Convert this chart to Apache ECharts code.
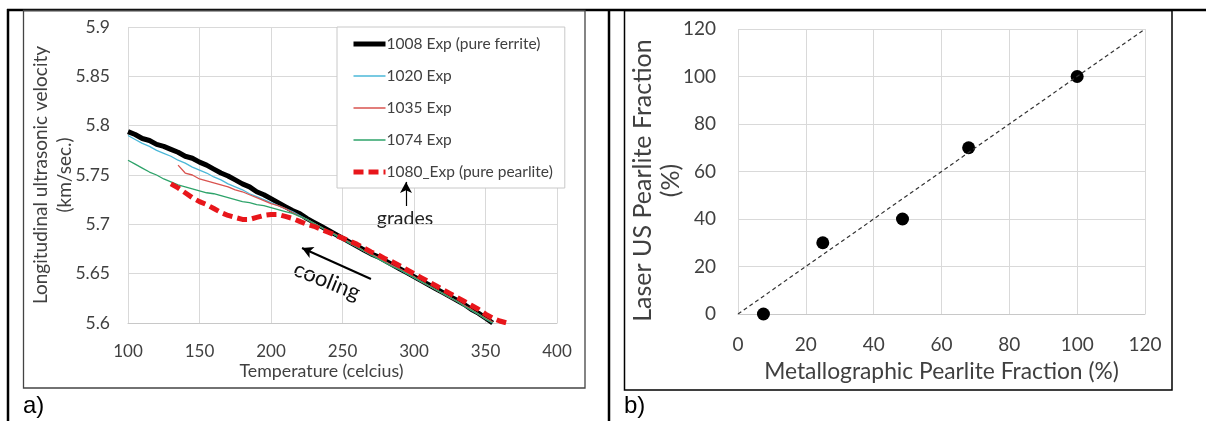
<!DOCTYPE html>
<html>
<head>
<meta charset="utf-8">
<script src="https://cdn.jsdelivr.net/npm/echarts@6/dist/echarts.min.js"></script>
<style>
  html, body { margin: 0; padding: 0; background: #fff; }
  #main { width: 1206px; height: 421px; }
</style>
</head>
<body>
<div id="main"></div>
<script>
// a) velocity vs temperature, sampled every 5 C
const temps = [100, 105, 110, 115, 120, 125, 130, 135, 140, 145, 150, 155, 160, 165, 170, 175, 180, 185, 190, 195,
  200, 205, 210, 215, 220, 225, 230, 235, 240, 245, 250, 255, 260, 265, 270, 275, 280, 285, 290, 295,
  300, 305, 310, 315, 320, 325, 330, 335, 340, 345, 350, 355, 360, 365, 370]
const vel1008 = [5.794, 5.791, 5.787, 5.785, 5.781, 5.779, 5.776, 5.773, 5.769, 5.767, 5.763, 5.760, 5.756, 5.752, 5.749, 5.745, 5.741, 5.738, 5.733, 5.730,
  5.726, 5.722, 5.718, 5.714, 5.711, 5.706, 5.702, 5.698, 5.694, 5.690, 5.686, 5.682, 5.678, 5.674, 5.670, 5.667, 5.663, 5.659, 5.655, 5.651,
  5.647, 5.643, 5.639, 5.635, 5.631, 5.627, 5.623, 5.619, 5.614, 5.610, 5.605, 5.600, null, null, null]
const vel1020 = [5.790, 5.786, 5.782, 5.779, 5.775, 5.772, 5.769, 5.765, 5.762, 5.758, 5.755, 5.752, 5.748, 5.745, 5.741, 5.738, 5.735, 5.731, 5.728, 5.725,
  5.722, 5.719, 5.716, 5.713, 5.709, 5.705, 5.701, 5.697, 5.693, 5.689, 5.685, 5.681, 5.677, 5.673, 5.669, 5.666, 5.662, 5.658, 5.654, 5.650,
  5.646, 5.642, 5.638, 5.634, 5.630, 5.626, 5.622, 5.618, 5.613, 5.609, 5.604, 5.600, null, null, null]
const vel1035 = [null, null, null, null, null, null, null, 5.760, 5.752, 5.750, 5.746, 5.744, 5.742, 5.740, 5.738, 5.735, 5.733, 5.730, 5.727, 5.724,
  5.721, 5.719, 5.716, 5.712, 5.708, 5.705, 5.701, 5.697, 5.693, 5.690, 5.686, 5.682, 5.678, 5.673, 5.670, 5.666, 5.662, 5.658, 5.655, 5.651,
  5.647, 5.642, 5.638, 5.634, 5.630, 5.626, 5.622, 5.618, 5.614, 5.609, 5.605, 5.601, null, null, null]
const vel1074 = [5.765, 5.761, 5.757, 5.753, 5.750, 5.746, 5.743, 5.740, 5.738, 5.736, 5.734, 5.732, 5.731, 5.729, 5.727, 5.725, 5.723, 5.722, 5.720, 5.719,
  5.717, 5.715, 5.713, 5.711, 5.708, 5.705, 5.701, 5.697, 5.693, 5.689, 5.685, 5.681, 5.677, 5.673, 5.669, 5.665, 5.661, 5.657, 5.654, 5.650,
  5.646, 5.642, 5.638, 5.634, 5.630, 5.626, 5.622, 5.617, 5.613, 5.609, 5.604, 5.600, null, null, null]
const vel1080 = [null, null, null, null, null, null, 5.741, 5.737, 5.732, 5.727, 5.723, 5.720, 5.716, 5.712, 5.709, 5.707, 5.705, 5.705, 5.707, 5.709,
  5.710, 5.710, 5.708, 5.706, 5.703, 5.700, 5.698, 5.695, 5.692, 5.689, 5.686, 5.683, 5.680, 5.676, 5.672, 5.669, 5.665, 5.662, 5.658, 5.654,
  5.650, 5.646, 5.642, 5.638, 5.634, 5.630, 5.626, 5.622, 5.618, 5.614, 5.609, 5.605, 5.602, 5.600, null]

// b) laser US vs metallographic pearlite fraction
const metalloFraction = [7.5, 25, 48.5, 68, 100]
const laserFraction = [0, 30, 40, 70, 100]
const parityX = [0, 120]
const parityY = [0, 120]

const pairs = (xs, ys) => xs.map((x, i) => [x, ys[i]]).filter(p => p[1] !== null)

const font = 'Lato, "Open Sans", sans-serif'
const gridColor = '#d9d9d9'
const labelColor = '#404040'

const chart = echarts.init(document.getElementById('main'), null, { renderer: 'canvas' })

const lineSeries = (name, data, color, width, type) => ({
  name: name,
  type: 'line',
  xAxisIndex: 0,
  yAxisIndex: 0,
  data: data,
  symbol: 'none',
  showSymbol: false,
  silent: true,
  animation: false,
  lineStyle: { color: color, width: width, type: type || 'solid' },
  itemStyle: { color: color }
})

const option = {
  animation: false,
  textStyle: { fontFamily: font },
  grid: [
    { left: 128, top: 27, width: 429, height: 296 },
    { left: 738, top: 29, width: 407, height: 285 }
  ],
  legend: {
    data: ['1008 Exp (pure ferrite)', '1020 Exp', '1035 Exp', '1074 Exp', '1080_Exp (pure pearlite)'],
    orient: 'vertical',
    left: 337,
    top: 27,
    padding: [9, 12, 8, 14],
    itemGap: 16,
    itemWidth: 32,
    itemHeight: 14,
    borderColor: '#c8c8c8',
    borderWidth: 1,
    backgroundColor: '#fff',
    selectedMode: false,
    itemStyle: { opacity: 0 },
    lineStyle: { width: 'inherit' },
    textStyle: { fontFamily: font, fontSize: 15.5, color: labelColor, padding: [0, 0, 0, -4] }
  },
  xAxis: [
    {
      gridIndex: 0,
      type: 'value',
      min: 100,
      max: 400,
      interval: 50,
      name: 'Temperature (celcius)',
      nameLocation: 'middle',
      nameMoveOverlap: false,
      nameGap: 39,
      nameTextStyle: { fontFamily: font, fontSize: 17.8, color: labelColor, padding: [0, 42, 0, 0] },
      axisLine: { show: true, lineStyle: { color: '#c8c8c8' } },
      axisTick: { show: false },
      axisLabel: { fontFamily: font, fontSize: 17, color: labelColor, margin: 20 },
      splitLine: { show: true, lineStyle: { color: gridColor } }
    },
    {
      gridIndex: 1,
      type: 'value',
      min: 0,
      max: 120,
      interval: 20,
      name: 'Metallographic Pearlite Fraction (%)',
      nameLocation: 'middle',
      nameMoveOverlap: false,
      nameGap: 46,
      nameTextStyle: { fontFamily: font, fontSize: 22.8, color: labelColor },
      axisLine: { show: true, lineStyle: { color: '#c8c8c8' } },
      axisTick: { show: false },
      axisLabel: { fontFamily: font, fontSize: 19, color: labelColor, margin: 21 },
      splitLine: { show: true, lineStyle: { color: gridColor } }
    }
  ],
  yAxis: [
    {
      gridIndex: 0,
      type: 'value',
      min: 5.6,
      max: 5.9,
      interval: 0.05,
      name: 'Longitudinal ultrasonic velocity\n(km/sec.)',
      nameLocation: 'middle',
      nameMoveOverlap: false,
      nameGap: 51,
      nameTextStyle: { fontFamily: font, fontSize: 19, color: labelColor, lineHeight: 24 },
      axisLine: { show: false },
      axisTick: { show: false },
      axisLabel: { fontFamily: font, fontSize: 17.5, color: labelColor, margin: 18, formatter: v => String(+v.toFixed(2)) },
      splitLine: { show: true, lineStyle: { color: gridColor } }
    },
    {
      gridIndex: 1,
      type: 'value',
      min: 0,
      max: 120,
      interval: 20,
      name: 'Laser US Pearlite Fraction\n(%)',
      nameLocation: 'middle',
      nameMoveOverlap: false,
      nameGap: 53,
      nameTextStyle: { fontFamily: font, fontSize: 25, color: labelColor, lineHeight: 28, padding: [0, 18, 0, 0] },
      axisLine: { show: false },
      axisTick: { show: false },
      axisLabel: { fontFamily: font, fontSize: 19, color: labelColor, margin: 22 },
      splitLine: { show: true, lineStyle: { color: gridColor } }
    }
  ],
  series: [
    Object.assign(lineSeries('1008 Exp (pure ferrite)', pairs(temps, vel1008), '#000000', 5), {
      markLine: {
        silent: true,
        symbol: ['none', 'arrow'],
        symbolSize: [9, 11],
        label: { show: false },
        lineStyle: { color: '#000', width: 2, type: 'solid' },
        data: [
          [{ coord: [269.9, 5.6446] }, { coord: [221.7, 5.676] }],
          [{ coord: [294.4, 5.7186], lineStyle: { width: 1.2 } }, { coord: [294.4, 5.743] }]
        ]
      }
    }),
    lineSeries('1020 Exp', pairs(temps, vel1020), '#4bb8d8', 1.3),
    lineSeries('1035 Exp', pairs(temps, vel1035), '#d9534f', 1.3),
    lineSeries('1074 Exp', pairs(temps, vel1074), '#2ea36a', 1.3),
    lineSeries('1080_Exp (pure pearlite)', pairs(temps, vel1080), '#e8161b', 5, [10, 5]),
    {
      name: 'parity',
      type: 'line',
      xAxisIndex: 1,
      yAxisIndex: 1,
      data: pairs(parityX, parityY),
      symbol: 'none',
      silent: true,
      lineStyle: { color: '#333', width: 1.2, type: [4, 3] }
    },
    {
      name: 'samples',
      type: 'scatter',
      xAxisIndex: 1,
      yAxisIndex: 1,
      data: pairs(metalloFraction, laserFraction),
      symbol: 'circle',
      symbolSize: 13,
      silent: true,
      itemStyle: { color: '#000', opacity: 1 }
    }
  ],
  graphic: [
    // table borders
    { type: 'line', shape: { x1: 7, y1: 10, x2: 1206, y2: 10 }, style: { stroke: '#000', lineWidth: 2.5 } },
    { type: 'line', shape: { x1: 8, y1: 9, x2: 8, y2: 421 }, style: { stroke: '#000', lineWidth: 2.5 } },
    { type: 'line', shape: { x1: 609, y1: 9, x2: 609, y2: 421 }, style: { stroke: '#000', lineWidth: 2.5 } },
    // chart frames
    { type: 'rect', shape: { x: 23.5, y: 10.5, width: 561.5, height: 377.5 }, style: { fill: 'none', stroke: '#444', lineWidth: 1.3 } },
    { type: 'rect', shape: { x: 624.5, y: 10.5, width: 547.5, height: 379.5 }, style: { fill: 'none', stroke: '#000', lineWidth: 1.5 } },
    // panel labels
    { type: 'text', x: 23, y: 394, style: { text: 'a)', font: '24px "Liberation Sans", Arial, sans-serif', fill: '#000' } },
    { type: 'text', x: 624, y: 394, style: { text: 'b)', font: '24px "Liberation Sans", Arial, sans-serif', fill: '#000' } },
    // annotations
    { type: 'text', x: 405, y: 219, style: { text: 'grades', font: '19.5px Lato, sans-serif', fill: '#222', align: 'center', verticalAlign: 'middle' } },
    { type: 'text', x: 327, y: 281, rotation: -0.38, style: { text: 'cooling', font: '22px Lato, sans-serif', fill: '#111', align: 'center', verticalAlign: 'middle' } }
  ]
}

chart.setOption(option)
</script>
</body>
</html>
